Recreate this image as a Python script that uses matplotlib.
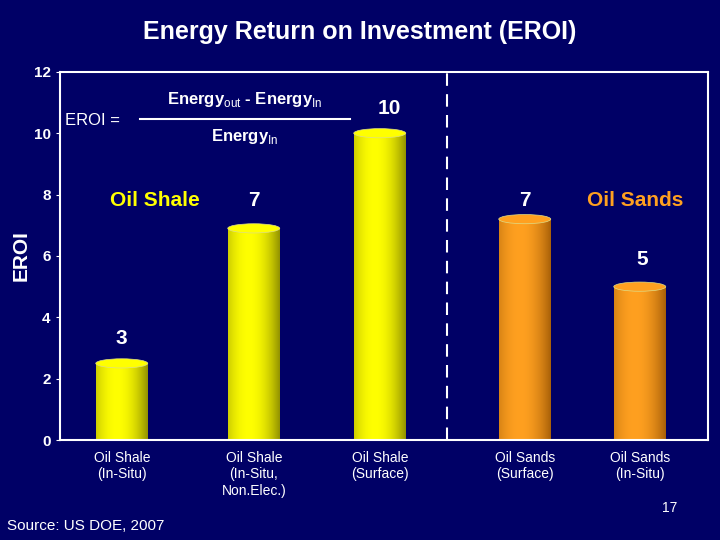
import matplotlib
matplotlib.use('Agg')
import matplotlib.pyplot as plt
from matplotlib.patches import Ellipse
import numpy as np

plt.rcParams['font.family'] = ['Liberation Sans', 'DejaVu Sans']
plt.rcParams['mathtext.fontset'] = 'custom'
plt.rcParams['mathtext.rm'] = 'Liberation Sans'

categories = ['Oil Shale\n(In-Situ)', 'Oil Shale\n(In-Situ,\nNon.Elec.)', 'Oil Shale\n(Surface)',
              'Oil Sands\n(Surface)', 'Oil Sands\n(In-Situ)']
values = [2.5, 6.9, 10.0, 7.2, 5.0]
labels = ['3', '7', '10', '7', '5']
bar_colors = [('#ffff00', '#6b6b00'), ('#ffff00', '#6b6b00'), ('#ffff00', '#6b6b00'),
              ('#ffa020', '#8a4a00'), ('#ffa020', '#8a4a00')]

bg = '#000066'
xpos = [62, 194, 320, 465, 580]
width = 52

fig = plt.figure(figsize=(7.2, 5.4), dpi=100, facecolor=bg)
ax = fig.add_axes([0.083, 0.185, 0.9, 0.682], facecolor=bg)

cap_h = 0.3
for x, v, (light, dark) in zip(xpos, values, bar_colors):
    bars = ax.bar(x, v, width=width, color='none', edgecolor='none')
    patch = bars[0]
    # horizontal shading for a cylinder look
    t = np.linspace(0, 1, 100)
    shade = np.clip(1 - ((t - 0.4) / 0.7) ** 2, 0, 1)
    c1 = np.array(matplotlib.colors.to_rgb(light))
    c2 = np.array(matplotlib.colors.to_rgb(dark))
    img = (c2[None, :] + (c1 - c2)[None, :] * shade[:, None])[None, :, :]
    im = ax.imshow(img, extent=[x - width / 2, x + width / 2, 0, v], aspect='auto', zorder=2)
    im.set_clip_path(patch)
    ax.add_patch(Ellipse((x, 0), width, cap_h, color=dark, zorder=1.9))
    ax.add_patch(Ellipse((x, v), width, cap_h, facecolor=light, edgecolor='#dddd88', lw=0.5, zorder=3))
ax.set_aspect('auto')
ax.set_xlim(0, 648)
ax.set_ylim(0, 12)

label_pos = [(62, 3.3), (194, 7.8), (330, 10.8), (465, 7.8), (582, 5.9)]
for (lx, ly), t in zip(label_pos, labels):
    ax.text(lx, ly, t, color='white', fontsize=15, fontweight='bold', ha='center', va='center')

ax.text(95, 7.8, 'Oil Shale', color='yellow', fontsize=15, fontweight='bold', ha='center', va='center')
ax.text(575, 7.8, 'Oil Sands', color='#ffa020', fontsize=15, fontweight='bold', ha='center', va='center')

# EROI formula
ax.text(5, 10.4, 'EROI =', color='white', fontsize=12, ha='left', va='center')
ax.text(185, 11.1, r'Energy$_{\mathrm{out}}$ - Energy$_{\mathrm{In}}$', color='white', fontsize=12,
        fontweight='bold', ha='center', va='center')
ax.plot([80, 290], [10.45, 10.45], color='white', lw=1.5)
ax.text(185, 9.9, r'Energy$_{\mathrm{In}}$', color='white', fontsize=12, fontweight='bold',
        ha='center', va='center')

ax.axvline(387, color='white', lw=1.5, ls=(0, (6, 4)))

for s in ax.spines.values():
    s.set_color('white')
    s.set_linewidth(1.5)
ax.set_yticks(range(0, 13, 2))
ax.set_xticks(xpos)
ax.set_xticklabels(categories, color='white', fontsize=10, va='top')
ax.tick_params(axis='x', length=0, pad=8)
ax.tick_params(axis='y', colors='white', labelsize=11, length=3)
for lab in ax.get_yticklabels():
    lab.set_fontweight('bold')
ax.set_ylabel('EROI', color='white', fontsize=15, fontweight='bold', labelpad=2)

fig.text(0.5, 0.94, 'Energy Return on Investment (EROI)', color='white', fontsize=18,
         fontweight='bold', ha='center', va='center')
fig.text(0.01, 0.025, 'Source: US DOE, 2007', color='white', fontsize=11, ha='left', va='center')
fig.text(0.93, 0.06, '17', color='white', fontsize=10, ha='center', va='center')

fig.savefig('out.png', dpi=100, facecolor=bg)
